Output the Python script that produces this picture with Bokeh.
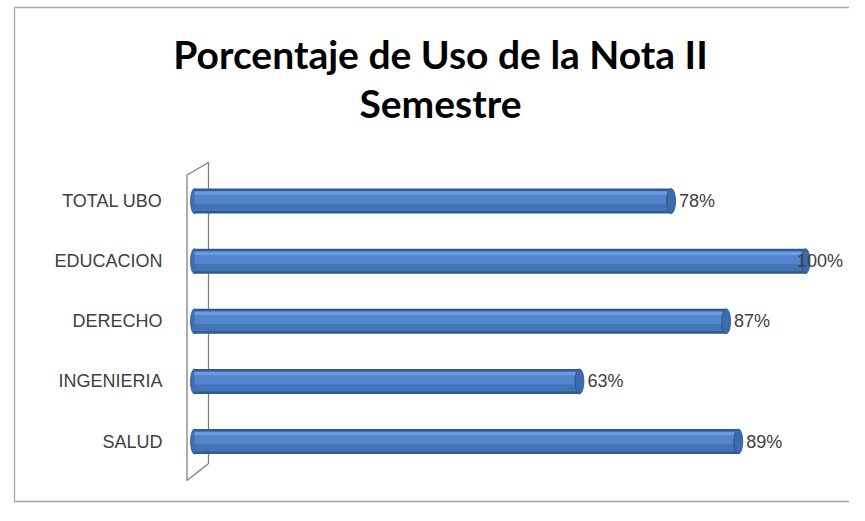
from bokeh.plotting import figure
from bokeh.models import Range1d, ColumnDataSource
from bokeh.core.properties import value
from bokeh.embed import file_html
from bokeh.resources import INLINE

# ---- data ----
categories = ["SALUD", "INGENIERIA", "DERECHO", "EDUCACION", "TOTAL UBO"]
percent = [89, 63, 87, 100, 78]
value_labels = ["89%", "63%", "87%", "100%", "78%"]
title_lines = ["Porcentaje de Uso de la Nota II", "Semestre"]

# ---- layout constants (pixels inside the figure) ----
W, H = 849, 505
X0_PX = 194          # pixel of 0 %
SX = 6.11            # pixels per percent
TOP_CAT_PX = 200.6   # pixel centre of the top category
SY = 60.1            # pixels per category step
LABEL_MAX = 97.3     # value labels never start beyond this (keeps "100%" inside)
n = len(categories)

def dx(px):
    return (px - X0_PX) / SX

def dy(px):
    return (n - 1) + (TOP_CAT_PX - px) / SY

ypos = list(range(n))
label_x = [min(v, LABEL_MAX) for v in percent]
src = ColumnDataSource(dict(y=ypos, cat=categories, v=percent, lab=value_labels,
                            lx=label_x, zero=[0] * n))

p = figure(width=W, height=H, output_backend="svg", toolbar_location=None,
           x_range=Range1d(dx(0), dx(W)), y_range=Range1d(dy(H), dy(0)),
           min_border=0, min_border_left=0, min_border_right=0,
           min_border_top=0, min_border_bottom=0)
p.axis.visible = False
p.grid.visible = False
p.outline_line_color = None
p.background_fill_color = "white"
p.border_fill_color = "white"

# chart-area border (right side runs off the picture as in the reference)
p.quad(left=dx(14), right=dx(W + 20), top=dy(7), bottom=dy(501),
       fill_color=None, line_color="#a6a6a6", line_width=1.3)

# 3D wall behind the bars
wall_x = [dx(186.5), dx(208), dx(208), dx(186.5)]
wall_y = [dy(174.5), dy(162), dy(463), dy(480)]
p.patch(wall_x, wall_y, fill_color="white", line_color="#7f7f7f", line_width=1.3)

# cylinder bars
bh = 25 / SY
p.ellipse(x="zero", y="y", width=8 / SX, height=bh, source=src,
          fill_color="#3f70b4", line_color="#2d5286", line_width=0.8)
p.hbar(y="y", left="zero", right="v", height=bh, source=src,
       fill_color="#2f5a93", line_color=None)
p.hbar(y="y", left="zero", right="v", height=bh * 0.80, source=src,
       fill_color="#4474b8", line_color=None)
p.hbar(y=[yy + bh * 0.12 for yy in ypos], left=0, right=percent, height=bh * 0.46,
       fill_color="#5385cc", line_color=None)
p.hbar(y=[yy + bh * 0.32 for yy in ypos], left=0, right=percent, height=bh * 0.14,
       fill_color="#6d9be0", line_color=None)
p.ellipse(x="v", y="y", width=9 / SX, height=bh, source=src,
          fill_color="#3c6cae", line_color="#2a4f82", line_width=0.8)

# value labels
p.text(x="lx", y="y", text="lab", source=src, x_offset=8,
       text_align="left", text_baseline="middle",
       text_font=value("Liberation Sans"), text_font_size="18px",
       text_color="#404040")

# category labels
p.text(x=dx(162), y="y", text="cat", source=src,
       text_align="right", text_baseline="middle",
       text_font=value("Liberation Sans"), text_font_size="18px",
       text_color="#404040")

# title
p.text(x=[dx(440), dx(440)], y=[dy(53), dy(102)], text=title_lines,
       text_align="center", text_baseline="middle",
       text_font=value("Lato"), text_font_style="bold", text_font_size="39px",
       text_color="black")

open("out.html", "w").write(file_html(p, INLINE))
